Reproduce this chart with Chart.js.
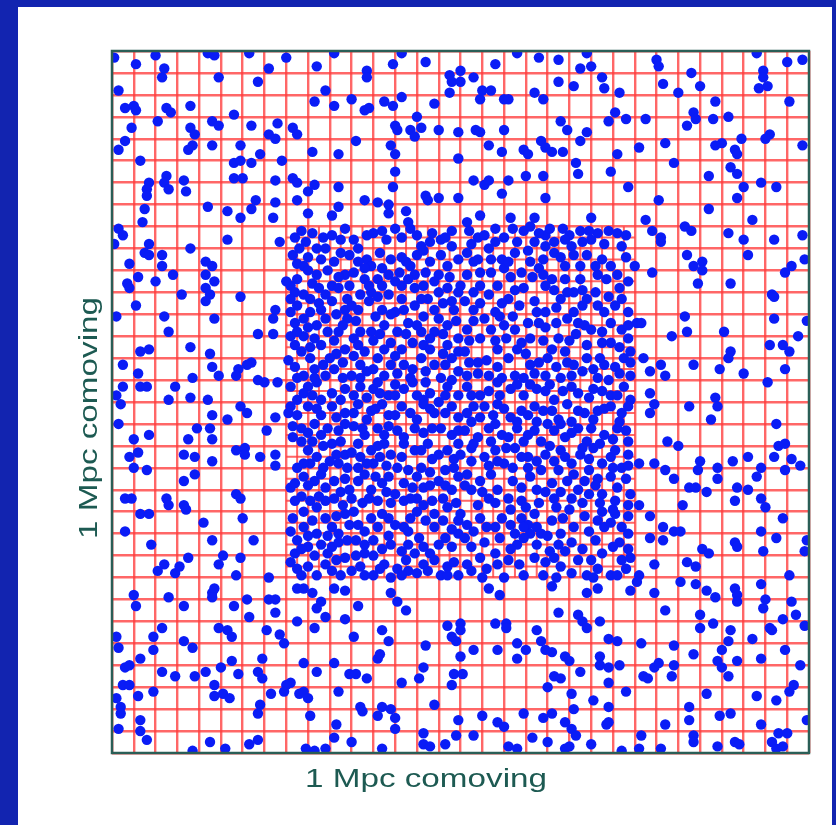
<!DOCTYPE html>
<html>
<head>
<meta charset="utf-8">
<script src="https://cdn.jsdelivr.net/npm/chart.js@4/dist/chart.umd.min.js"></script>
<style>
  html, body { margin: 0; padding: 0; width: 836px; height: 825px; overflow: hidden; background: #1224b0; }
  #panel { position: absolute; left: 18px; top: 7px; width: 814px; height: 818px; background: #ffffff; }
  canvas { display: block; }
</style>
</head>
<body>
<div id="panel"><canvas id="chart" width="814" height="818"></canvas></div>
<script>
// Box is 32 root cells across; positions are in root-cell units, y counted from the top edge.
const rootGrid = [0,1,2,3,4,5,6,7,8,9,10,11,12,13,14,15,16,17,18,19,20,21,22,23,24,25,26,27,28,29,30,31,32];
// Refined patch covers root cells 8..24 on both axes, split in half.
const refinedBounds = [8, 24];
const refinedGrid = [8.5,9.5,10.5,11.5,12.5,13.5,14.5,15.5,16.5,17.5,18.5,19.5,20.5,21.5,22.5,23.5];

const xTitle = '1 Mpc comoving';
const yTitle = '1 Mpc comoving';

// Particles outside the refined patch
const outerNW = [[0.1,0.3],[1.1,0.6],[2.0,0.2],[2.4,0.8],[2.3,1.2],[4.4,0.1],[4.7,0.2],[4.9,1.2],[6.3,0.1],[6.7,1.4],[7.2,0.8],[8.0,0.3],[9.4,0.7],[10.2,0.1],[9.8,1.8],[9.3,2.3],[10.2,2.5],[11.0,2.2],[11.7,0.9],[11.7,1.2],[12.9,0.6],[13.3,0.1],[14.4,0.5],[15.5,1.1],[15.6,1.4],[15.5,1.9],[13.3,2.1],[12.5,2.3],[12.9,2.5],[14.8,2.4],[11.6,2.7],[11.8,2.6],[0.3,1.8],[0.6,2.6],[1.0,2.5],[1.1,2.7],[2.5,2.6],[2.7,2.8],[3.6,2.5],[2.1,3.2],[0.9,3.5],[0.6,4.1],[0.3,4.5],[3.6,3.5],[3.8,3.8],[3.7,4.3],[3.5,4.5],[4.6,3.2],[4.9,3.4],[5.6,2.9],[6.4,3.4],[7.2,3.8],[7.6,3.3],[7.5,4.0],[8.3,3.5],[8.5,3.8],[4.6,4.3],[5.9,4.3],[5.6,5.1],[5.9,5.0],[6.4,5.1],[6.8,4.7],[7.8,5.0],[9.2,4.6],[10.4,4.7],[11.2,4.1],[12.8,4.3],[13.0,3.4],[13.1,3.6],[13.7,3.6],[13.9,3.9],[14.0,3.0],[14.2,3.5],[15.0,3.6],[15.9,3.7],[13.0,4.7],[15.9,4.9],[1.3,5.0],[1.7,6.0],[1.6,6.3],[1.6,6.6],[2.5,5.7],[2.4,6.0],[2.6,6.3],[3.3,5.9],[3.4,6.4],[1.5,7.2],[1.4,7.8],[4.4,7.1],[5.3,7.3],[5.9,7.6],[5.6,5.8],[6.0,5.8],[6.6,6.8],[6.4,7.2],[7.5,5.9],[8.3,5.8],[8.5,6.0],[7.5,6.9],[7.4,7.6],[8.5,6.8],[9.0,6.4],[9.3,6.1],[9.0,7.4],[10.4,6.2],[10.4,7.1],[10.1,7.5],[11.6,6.8],[12.2,6.9],[12.7,7.0],[12.7,7.4],[13.0,5.5],[12.9,6.2],[13.5,7.3],[14.4,6.6],[14.5,6.8],[15.0,6.7],[15.9,6.7],[0.3,8.1],[0.5,8.4],[0.1,8.8],[1.7,8.8],[1.5,9.2],[1.7,9.3],[2.3,9.3],[0.8,9.7],[2.3,9.8],[1.2,10.3],[2.8,10.2],[2.0,10.5],[0.7,10.6],[0.8,10.8],[3.6,9.0],[5.3,8.6],[7.7,8.7],[4.3,9.6],[4.6,9.8],[4.3,10.2],[4.7,10.5],[4.3,10.8],[4.5,11.1],[4.3,11.4],[3.2,11.1],[5.9,11.2],[1.1,11.6],[0.2,12.1],[2.4,12.1],[2.6,12.8],[4.7,12.2],[7.5,11.8],[7.4,12.2],[6.7,12.9],[7.4,12.9],[3.6,13.5],[4.5,13.8],[1.3,13.7],[1.7,13.6],[0.5,14.3],[1.2,14.7],[4.6,14.4],[5.8,14.5],[5.7,14.8],[6.4,14.2],[6.2,14.3],[4.9,14.8],[3.7,14.9],[0.5,15.3],[1.3,15.3],[1.6,15.3],[2.9,15.3],[0.2,15.7],[2.6,15.9],[3.6,15.8],[4.4,15.9],[6.7,15.0],[7.0,15.1],[7.6,15.1]];

const outerNE = [[16.0,0.9],[16.0,1.4],[16.6,1.2],[16.9,2.2],[17.0,1.8],[17.4,1.8],[17.6,0.6],[18.0,2.2],[18.2,2.2],[18.6,0.1],[19.6,0.3],[19.4,1.9],[19.8,2.2],[20.5,0.4],[20.5,1.4],[21.2,1.6],[21.5,0.8],[22.0,0.7],[21.8,0.1],[22.5,1.2],[22.6,1.7],[23.3,1.9],[16.7,3.6],[16.9,3.7],[18.0,3.6],[17.3,4.3],[17.9,4.6],[18.9,4.5],[19.1,4.7],[19.7,4.1],[19.9,4.4],[20.2,4.6],[20.7,4.6],[20.6,3.2],[20.9,3.6],[21.5,4.1],[21.8,3.7],[22.8,3.2],[23.1,2.8],[23.6,3.1],[23.2,4.7],[21.3,5.1],[21.4,5.6],[22.9,5.5],[16.6,5.9],[17.1,6.1],[17.3,5.9],[17.9,6.5],[18.2,5.9],[19.0,5.7],[19.8,5.7],[19.9,6.7],[16.9,7.5],[16.3,7.8],[18.3,7.6],[19.4,7.6],[22.0,7.6],[23.7,6.2],[24.2,4.4],[24.5,3.1],[25.0,0.4],[25.1,0.7],[25.3,1.5],[26.0,1.9],[26.6,1.0],[27.0,1.6],[27.7,2.3],[26.7,2.8],[26.8,3.1],[26.4,3.4],[27.6,3.1],[28.3,3.0],[29.6,0.1],[29.9,0.9],[29.9,1.2],[29.7,1.7],[30.1,1.6],[31.0,0.5],[31.7,0.4],[31.1,2.3],[25.4,4.2],[25.8,5.1],[27.7,4.3],[28.0,4.2],[28.6,4.5],[28.7,4.7],[28.9,4.0],[30.2,3.8],[30.0,4.0],[31.7,4.3],[27.4,5.7],[28.4,5.3],[28.7,5.6],[29.0,6.2],[28.7,6.7],[29.8,6.0],[30.5,6.2],[25.1,6.8],[27.4,7.2],[24.5,7.7],[24.8,8.2],[25.2,8.5],[25.2,8.7],[26.3,8.0],[26.6,8.2],[28.3,8.3],[29.0,8.6],[29.4,7.7],[30.4,8.6],[31.7,8.4],[26.4,9.3],[26.7,9.8],[27.1,9.6],[27.1,10.0],[29.2,9.3],[30.9,10.1],[31.2,9.8],[31.8,9.5],[24.8,10.1],[26.9,10.6],[28.4,10.6],[30.3,11.1],[30.4,11.2],[26.3,12.1],[26.4,12.8],[25.7,13.0],[28.1,12.8],[30.4,12.2],[31.9,12.3],[31.5,13.0],[30.2,13.4],[30.8,13.4],[31.1,13.7],[28.4,13.7],[28.3,14.0],[26.7,14.3],[27.9,14.5],[29.0,14.7],[30.9,14.5],[24.4,14.0],[24.7,14.6],[25.2,14.3],[25.4,14.8],[24.7,15.6],[27.7,15.8],[30.1,15.1]];

const outerSW = [[0.4,16.1],[0.3,17.0],[1.0,17.7],[1.7,17.5],[0.8,18.5],[1.2,18.3],[1.0,19.0],[1.6,19.1],[3.5,17.7],[3.9,17.2],[4.5,17.2],[4.6,16.6],[4.6,17.7],[5.3,16.8],[5.9,16.2],[6.2,16.5],[3.3,18.4],[3.8,18.5],[4.6,18.7],[5.7,18.2],[6.1,18.1],[6.1,18.4],[6.8,18.5],[7.1,17.3],[7.5,16.7],[7.5,18.4],[7.5,18.9],[3.3,19.6],[3.8,19.3],[0.6,20.4],[0.9,20.4],[2.5,20.4],[2.6,20.7],[3.3,20.7],[3.4,20.9],[5.7,20.2],[5.9,20.4],[1.3,21.1],[1.7,21.1],[0.6,21.9],[4.2,21.5],[6.0,21.3],[1.8,22.5],[4.6,22.3],[6.5,22.3],[3.5,23.1],[2.4,23.4],[2.1,23.7],[2.9,23.8],[3.1,23.5],[4.9,23.4],[5.1,23.0],[5.9,23.1],[5.7,23.9],[7.2,24.0],[1.0,24.8],[1.1,25.3],[2.6,24.9],[3.3,25.3],[4.6,24.7],[4.7,24.5],[4.6,24.9],[5.6,25.3],[6.2,25.0],[7.2,25.0],[7.5,25.0],[7.5,25.6],[6.3,25.8],[8.5,24.5],[8.8,24.5],[9.2,24.7],[9.6,25.1],[10.2,24.5],[10.7,24.6],[9.4,25.4],[9.8,25.8],[10.7,25.9],[11.3,25.3],[12.8,24.7],[13.1,25.1],[13.5,25.5],[8.5,26.0],[9.3,26.3],[2.3,26.3],[1.9,26.7],[1.9,27.3],[0.2,26.7],[0.3,27.2],[3.3,26.9],[3.7,27.2],[4.9,26.3],[5.3,26.4],[5.5,26.7],[7.1,26.4],[7.7,26.6],[7.9,27.0],[11.1,26.7],[12.4,26.4],[12.7,26.9],[14.4,27.1],[15.4,26.2],[15.6,26.7],[15.8,26.9],[16.0,27.6],[1.3,27.7],[0.6,28.1],[0.8,28.0],[0.5,28.9],[0.8,28.9],[2.3,28.3],[2.9,28.5],[3.8,28.5],[4.3,28.3],[5.0,28.1],[4.7,28.9],[5.5,27.8],[5.8,28.4],[6.7,28.3],[6.9,27.7],[6.9,28.6],[8.2,28.8],[8.8,27.9],[9.4,28.3],[10.2,27.9],[10.9,28.4],[11.2,28.4],[11.7,28.6],[12.2,27.7],[12.3,27.5],[13.3,28.8],[14.1,28.6],[14.3,28.1],[15.7,28.4],[15.6,28.9],[0.2,29.5],[0.4,29.9],[1.2,29.4],[1.9,29.2],[4.7,29.4],[5.1,29.3],[5.4,29.5],[7.3,29.3],[8.0,28.9],[7.9,29.2],[8.6,29.3],[8.8,29.2],[9.0,29.5],[10.4,29.2],[6.8,29.8],[0.3,30.9],[0.4,30.2],[1.3,30.5],[1.3,31.0],[1.6,31.4],[6.7,30.2],[9.1,30.3],[10.3,30.7],[11.4,29.9],[11.5,30.1],[12.2,30.3],[12.4,29.9],[12.8,30.0],[13.0,30.4],[14.8,29.8],[15.9,30.5],[4.5,31.5],[5.2,31.8],[6.3,31.6],[6.7,31.4],[3.7,31.9],[8.9,31.8],[9.3,31.9],[9.8,31.8],[10.2,31.3],[11.0,31.5],[12.4,31.8],[14.3,31.1],[14.3,31.6],[14.6,31.7],[15.3,31.6],[15.8,31.2],[13.0,30.9]];

const outerSE = [[24.7,16.5],[24.9,16.1],[26.5,16.2],[27.5,16.8],[27.8,16.2],[30.5,17.0],[25.5,17.8],[26.0,18.0],[30.6,18.0],[30.9,17.9],[24.2,18.8],[24.9,18.8],[25.4,19.1],[25.8,19.5],[27.0,18.7],[26.9,19.1],[27.8,19.0],[28.5,18.7],[29.2,18.5],[30.4,18.5],[31.2,18.6],[31.6,18.9],[29.6,19.4],[29.8,19.0],[30.9,19.1],[26.5,19.9],[26.8,19.9],[27.3,20.1],[27.8,19.5],[28.7,19.9],[29.2,20.0],[28.6,20.5],[29.8,20.4],[30.0,20.8],[24.2,20.7],[26.2,20.7],[24.7,21.2],[25.3,21.7],[25.8,21.9],[26.1,21.9],[24.7,22.2],[25.3,22.3],[27.1,22.7],[27.4,22.9],[28.6,22.4],[28.7,22.6],[29.8,21.9],[30.8,21.3],[30.5,22.2],[31.9,22.3],[31.8,22.8],[29.9,22.8],[24.2,23.9],[24.9,23.4],[26.4,23.3],[26.8,23.5],[26.1,24.2],[26.8,24.3],[24.9,24.7],[27.3,24.6],[27.7,24.9],[28.6,24.5],[28.7,24.8],[28.7,25.1],[29.8,24.3],[31.1,23.9],[30.0,25.0],[29.9,25.4],[31.2,25.1],[30.8,25.9],[31.4,25.7],[30.2,26.3],[30.3,26.4],[31.8,26.2],[25.4,25.5],[27.0,25.7],[27.6,26.1],[27.0,26.3],[28.4,26.4],[29.4,26.8],[26.7,27.5],[25.8,27.1],[28.0,27.3],[28.3,26.9],[28.7,27.8],[29.8,27.7],[30.9,27.3],[24.3,27.0],[24.9,28.1],[25.1,27.9],[24.4,28.5],[24.6,28.6],[25.8,28.0],[25.7,28.5],[27.8,27.8],[28.0,28.1],[28.3,28.5],[31.6,28.0],[23.6,29.2],[27.3,29.3],[29.6,29.4],[30.5,29.6],[31.1,29.2],[31.3,28.9],[26.5,29.9],[26.5,30.5],[25.4,30.7],[27.9,30.3],[28.4,30.2],[29.8,30.7],[30.6,31.1],[31.0,31.1],[31.9,30.5],[24.3,31.2],[25.2,31.8],[26.7,31.2],[26.7,31.5],[27.8,31.7],[28.6,31.5],[28.8,31.6],[30.3,31.5],[30.5,31.8],[30.8,31.7],[17.3,24.5],[17.8,24.8],[16.0,26.1],[16.0,26.4],[17.6,26.1],[18.1,26.1],[18.1,26.3],[19.5,26.4],[20.5,25.6],[20.2,24.4],[21.4,25.7],[21.6,26.0],[21.8,26.3],[22.4,26.0],[23.8,24.6],[24.1,24.2],[21.8,24.7],[22.3,24.5],[16.6,27.3],[17.7,27.3],[18.6,27.0],[19.0,27.3],[18.6,27.7],[19.7,26.9],[19.9,27.3],[20.2,27.4],[20.8,27.6],[21.0,27.8],[22.4,27.6],[22.8,26.8],[23.2,26.9],[22.4,28.0],[22.8,28.1],[23.3,28.0],[16.1,28.4],[20.3,28.5],[20.6,28.6],[21.5,28.3],[22.8,28.8],[20.0,29.0],[21.1,29.3],[22.1,29.6],[22.8,29.9],[17.0,30.3],[17.7,30.6],[18.0,30.8],[18.9,30.2],[19.8,30.4],[20.2,30.2],[21.2,30.0],[20.8,30.6],[21.1,30.9],[22.7,30.7],[22.8,30.6],[16.6,31.2],[18.2,31.7],[18.6,31.8],[19.3,31.3],[20.0,31.5],[20.8,31.8],[21.0,31.7],[21.3,31.2],[22.0,31.6],[23.4,31.9],[24.2,31.8]];

// Particles inside the refined patch
const innerNW = [[8.7,8.2],[8.9,8.7],[9.7,8.5],[9.8,9.0],[10.7,8.1],[10.5,8.6],[11.7,8.4],[12.4,8.2],[12.6,8.6],[13.0,8.1],[13.6,7.8],[13.7,8.1],[14.2,8.9],[14.6,8.7],[15.1,8.6],[15.6,8.2],[15.6,8.9],[14.7,8.3],[13.3,8.5],[8.3,9.3],[8.5,9.7],[8.8,9.8],[9.4,9.0],[9.6,9.5],[10.2,9.6],[10.9,9.3],[11.3,9.0],[11.7,9.5],[11.9,9.8],[12.8,9.5],[13.7,9.8],[14.0,9.3],[14.6,9.6],[15.4,9.8],[15.9,9.5],[10.7,10.2],[11.1,10.1],[11.6,10.4],[12.2,10.4],[12.7,10.2],[13.2,10.1],[13.9,10.2],[15.0,10.2],[9.4,10.2],[10.1,10.7],[8.5,10.4],[8.2,10.7],[8.0,10.5],[8.4,11.0],[8.8,11.1],[9.1,11.3],[9.8,11.1],[10.4,10.8],[10.8,11.3],[11.4,11.1],[11.9,11.0],[12.4,10.7],[12.7,11.1],[13.3,10.7],[13.6,10.4],[14.3,10.7],[14.5,11.3],[15.0,11.0],[15.6,11.4],[15.9,11.0],[8.5,11.6],[9.1,11.9],[10.7,11.8],[11.3,11.8],[12.4,11.8],[13.0,11.9],[13.9,11.6],[14.8,11.8],[15.7,11.8],[8.2,11.9],[8.4,12.4],[8.8,12.2],[9.4,12.5],[9.8,12.2],[10.4,12.8],[10.8,12.2],[11.4,12.8],[11.9,12.8],[12.5,12.5],[13.1,12.8],[13.6,12.4],[14.2,12.8],[14.8,12.8],[15.4,12.5],[15.9,13.1],[8.2,13.0],[8.8,13.0],[9.3,13.1],[12.8,13.3],[14.3,13.4],[15.4,13.4],[8.1,14.1],[8.7,13.7],[9.1,14.0],[9.6,13.4],[9.7,14.3],[10.7,13.6],[11.1,13.9],[11.6,13.7],[12.2,14.0],[13.0,13.9],[13.4,14.3],[14.2,14.0],[14.8,14.3],[15.6,14.0],[15.9,13.7],[8.8,14.8],[10.2,14.5],[11.0,14.8],[11.7,14.6],[12.5,14.8],[13.1,14.7],[13.7,14.9],[15.1,14.9],[15.9,14.6],[8.2,15.3],[9.0,15.3],[9.4,15.1],[10.1,15.6],[10.7,15.4],[11.4,15.3],[12.0,15.4],[12.7,15.7],[13.4,15.4],[14.0,15.7],[14.6,15.6],[15.4,15.3],[15.9,15.7],[8.5,15.9],[9.6,15.9],[15.0,16.0],
  [8.4,8.5],[9.2,8.3],[10.1,8.4],[11.1,8.6],[12.0,8.3],[14.0,8.4],[15.3,8.5],[8.6,9.0],[9.0,9.4],[10.5,9.2],[11.3,9.6],[12.3,9.2],[13.3,9.4],[14.3,9.1],[15.1,9.3],[9.0,10.0],[9.9,10.0],[10.4,10.3],[11.6,9.9],[12.4,9.9],[13.5,9.6],[14.4,10.1],[15.5,10.3],[9.2,10.6],[9.5,10.8],[10.9,10.7],[11.8,10.7],[13.0,10.5],[13.9,10.8],[14.8,10.5],[15.4,10.8],[8.2,11.3],[9.5,11.5],[10.1,11.4],[11.0,11.6],[11.8,11.4],[12.2,11.2],[13.3,11.3],[14.2,11.3],[15.2,11.5],[9.6,11.8],[10.3,12.0],[11.2,12.3],[12.1,12.1],[12.8,12.0],[13.4,11.8],[14.3,12.1],[15.0,12.2],[15.8,12.3],[8.5,12.8],[9.0,12.6],[9.9,12.8],[10.6,12.5],[11.1,13.1],[12.0,13.2],[12.3,12.9],[13.5,12.9],[14.0,12.5],[14.6,13.1],[15.2,12.9],[8.4,13.4],[9.1,13.5],[10.2,13.2],[10.3,13.8],[11.3,13.4],[12.5,13.6],[13.3,13.6],[13.8,13.3],[14.6,13.6],[15.2,13.8],[8.4,14.4],[9.3,14.5],[10.0,14.0],[10.6,14.2],[11.4,14.3],[12.0,14.5],[12.8,14.3],[13.8,14.5],[14.4,14.6],[15.3,14.3],[8.5,14.9],[9.3,14.9],[9.8,14.8],[10.6,14.9],[11.4,14.9],[12.2,15.1],[13.0,15.2],[13.8,15.1],[14.4,15.1],[15.6,15.0],[8.8,15.6],[9.2,15.7],[10.5,15.9],[11.1,15.7],[11.7,15.8],[12.3,15.6],[13.0,15.7],[14.3,15.9],[15.3,15.7]];

const innerNE = [[17.6,8.1],[18.9,8.2],[19.2,8.0],[19.9,8.4],[20.7,8.1],[21.5,8.2],[22.3,8.3],[22.8,8.2],[23.2,8.3],[16.8,8.5],[18.0,8.5],[19.4,8.7],[20.3,8.7],[21.1,8.9],[22.0,8.6],[16.3,9.2],[16.8,9.5],[17.3,9.0],[17.9,9.5],[18.5,9.2],[18.8,10.1],[19.2,9.6],[19.8,9.5],[20.3,9.2],[20.8,9.8],[21.2,9.3],[21.5,9.8],[22.5,9.5],[22.9,9.8],[23.2,10.2],[24.0,9.8],[17.4,10.1],[18.0,9.9],[20.2,10.4],[22.3,10.2],[16.0,10.7],[16.6,11.0],[17.3,11.1],[17.7,10.7],[18.2,11.3],[18.9,10.8],[19.4,11.4],[19.9,10.7],[20.6,11.3],[21.2,11.0],[21.8,11.3],[22.3,11.6],[23.4,11.3],[23.7,11.9],[16.6,11.8],[17.6,11.9],[19.9,11.9],[21.2,11.9],[16.3,12.7],[17.1,12.2],[17.4,12.7],[18.0,12.5],[18.5,12.7],[19.2,13.1],[19.6,12.4],[20.9,12.2],[21.4,12.4],[22.0,12.7],[22.5,12.8],[23.4,12.7],[24.1,12.4],[24.3,12.4],[16.9,13.1],[20.5,13.1],[22.5,13.3],[22.9,13.3],[23.7,13.1],[16.2,13.7],[16.8,14.2],[17.7,13.6],[18.2,14.0],[18.6,13.6],[19.2,14.3],[20.0,14.0],[20.8,13.7],[21.2,14.3],[21.8,14.0],[22.1,14.5],[22.6,14.3],[23.1,14.4],[23.5,14.0],[17.3,14.8],[18.5,14.8],[19.9,14.8],[20.6,14.9],[23.8,14.8],[16.3,15.3],[16.9,15.7],[17.7,15.1],[18.3,15.4],[18.9,15.7],[19.5,15.4],[20.3,15.9],[21.1,15.3],[21.4,15.6],[22.1,15.4],[22.9,15.7],[23.5,15.3],[23.8,15.9],
  [16.4,8.2],[17.1,8.4],[18.4,8.1],[19.6,8.3],[20.1,8.1],[21.0,8.4],[21.9,8.2],[23.6,8.4],[16.5,8.8],[17.6,8.7],[18.6,8.7],[19.9,8.9],[20.8,8.6],[21.6,8.7],[22.6,8.8],[23.4,8.9],[16.6,9.6],[17.4,9.5],[18.2,9.6],[19.1,9.1],[19.6,9.9],[20.6,9.4],[21.8,9.3],[22.2,9.8],[23.6,9.4],[16.3,10.2],[16.9,10.1],[18.3,10.3],[19.3,10.3],[19.8,10.2],[20.8,10.4],[21.5,10.4],[22.7,10.4],[23.7,10.5],[16.9,10.7],[18.5,10.9],[20.3,10.9],[20.9,11.0],[21.6,10.9],[22.2,11.0],[22.8,11.2],[23.3,10.8],[16.2,11.4],[16.9,11.5],[17.9,11.5],[18.7,11.6],[19.5,11.9],[20.4,11.7],[21.6,11.6],[22.6,11.9],[23.1,11.6],[16.6,12.3],[17.8,12.1],[18.4,12.1],[19.1,12.4],[19.9,12.6],[20.4,12.4],[21.3,12.9],[21.7,12.5],[22.9,12.4],[23.7,12.5],[16.4,13.2],[17.6,13.2],[18.1,13.1],[18.8,13.3],[19.8,13.2],[20.2,13.6],[21.0,13.2],[21.8,13.4],[23.3,13.5],[23.8,13.7],[16.4,14.2],[17.2,14.1],[17.7,14.4],[19.0,13.8],[19.6,14.2],[20.4,14.4],[20.9,14.2],[21.6,14.6],[22.4,14.0],[23.8,14.2],[16.3,14.8],[16.8,14.7],[17.9,14.9],[18.9,14.9],[19.4,14.7],[20.1,15.2],[21.1,14.8],[22.3,14.9],[22.8,15.0],[23.3,14.7],[16.5,15.7],[17.3,15.5],[17.8,15.7],[18.6,15.2],[19.2,15.2],[19.9,15.5],[20.7,15.5],[21.9,15.8],[22.5,15.5],[23.2,15.7]];

const innerSW = [[8.1,16.5],[8.2,16.2],[9.0,16.2],[9.6,16.6],[10.1,16.2],[10.7,16.5],[11.3,16.1],[11.9,16.4],[12.4,16.1],[12.7,16.6],[13.3,16.2],[13.7,16.5],[14.3,16.1],[14.8,16.5],[15.6,16.2],[15.9,16.7],[8.7,17.2],[9.3,17.0],[9.6,17.5],[10.4,17.3],[11.1,17.1],[11.6,17.5],[12.2,17.2],[12.5,17.5],[13.1,17.3],[13.9,17.2],[14.3,17.4],[15.1,17.2],[15.6,17.5],[8.7,17.8],[9.0,18.2],[9.4,18.5],[10.1,17.9],[10.5,17.8],[10.7,18.4],[11.3,17.9],[11.4,18.5],[11.9,18.2],[12.5,17.9],[12.8,18.4],[13.4,17.9],[13.9,18.2],[14.5,17.9],[15.0,18.4],[15.4,18.2],[15.9,17.9],[8.5,19.0],[9.1,18.8],[10.4,18.8],[10.8,19.0],[12.0,18.8],[13.1,19.0],[14.2,19.0],[15.3,19.1],[8.2,19.9],[8.4,19.7],[8.8,19.4],[9.3,19.6],[9.8,19.9],[10.2,19.6],[10.5,20.1],[11.3,19.6],[11.6,19.3],[11.9,20.0],[12.4,19.7],[12.7,19.4],[13.0,20.2],[13.4,19.7],[14.0,19.4],[14.3,19.9],[15.0,19.6],[15.6,20.0],[15.9,19.4],[9.1,20.5],[9.8,20.5],[11.0,20.4],[12.2,20.5],[13.4,20.5],[14.0,20.4],[14.7,20.5],[8.8,21.0],[9.4,20.8],[9.8,21.3],[10.1,21.7],[10.7,21.1],[11.1,21.0],[11.3,21.6],[11.9,21.3],[12.2,21.7],[12.7,21.3],[13.4,21.7],[14.0,21.0],[14.8,21.1],[15.4,20.8],[15.9,21.4],[8.8,21.7],[9.4,22.0],[10.4,22.0],[13.6,21.9],[14.8,21.7],[8.5,22.3],[8.4,22.9],[9.0,22.6],[9.6,22.5],[10.1,22.6],[10.7,23.1],[10.8,22.3],[11.6,22.5],[12.0,22.3],[12.8,22.5],[13.3,22.8],[13.6,22.5],[13.9,22.9],[14.3,22.6],[15.0,22.5],[15.6,22.6],[15.9,22.0],[8.5,23.6],[9.0,23.5],[9.4,23.9],[9.8,23.4],[10.5,23.9],[11.0,23.7],[11.4,23.5],[12.0,23.9],[12.8,24.0],[13.1,23.6],[13.6,23.7],[14.3,23.4],[14.5,23.7],[15.1,23.9],[15.4,23.5],[15.9,23.9],
  [8.5,16.6],[9.4,16.3],[10.3,16.7],[11.1,16.5],[11.7,16.8],[12.1,16.3],[13.0,16.6],[14.0,16.8],[14.6,16.3],[15.3,16.5],[8.3,17.1],[9.0,17.4],[9.9,17.2],[10.7,17.0],[11.5,17.2],[12.7,17.1],[13.4,17.6],[14.7,17.2],[15.9,17.3],[8.3,17.6],[9.2,17.8],[9.7,18.0],[10.3,18.4],[11.0,18.3],[12.2,18.0],[12.3,18.5],[13.3,18.5],[14.2,18.2],[14.7,18.6],[15.7,18.6],[8.8,18.8],[9.7,19.0],[10.0,18.7],[11.3,19.0],[11.7,18.8],[12.6,18.9],[13.6,19.1],[14.6,19.2],[15.7,19.0],[9.0,19.8],[9.6,19.3],[10.7,19.5],[10.9,20.0],[12.1,19.4],[12.6,20.1],[13.8,19.9],[14.6,19.8],[15.3,19.8],[8.4,20.5],[8.7,20.3],[9.5,20.3],[10.2,20.4],[10.6,20.7],[11.5,20.6],[11.8,20.4],[12.8,20.6],[13.7,20.4],[14.3,20.7],[15.2,20.4],[15.8,20.6],[8.3,21.3],[9.2,21.4],[10.3,21.2],[10.9,21.6],[11.6,21.9],[12.4,21.1],[13.0,21.6],[13.7,21.3],[14.4,21.4],[15.2,21.4],[15.6,21.8],[8.2,21.9],[9.0,22.1],[9.9,22.1],[10.4,22.4],[11.2,22.3],[11.6,22.9],[12.4,22.7],[12.7,22.1],[14.1,22.2],[14.6,22.9],[15.3,22.2],[8.7,22.7],[9.3,23.0],[9.9,22.9],[10.3,23.2],[11.2,23.0],[12.0,23.0],[12.5,23.4],[13.5,23.2],[14.8,23.2],[15.7,23.3],[8.2,23.3],[8.7,23.9],[10.1,23.7],[11.6,23.9],[12.3,23.6],[13.3,23.9],[14.0,23.8],[15.4,23.9]];

const innerSE = [[16.3,16.5],[17.1,16.2],[17.7,16.1],[18.3,16.7],[18.8,16.4],[19.4,16.2],[19.5,16.9],[20.2,16.4],[20.9,16.1],[21.1,16.9],[21.7,16.5],[22.3,16.4],[22.9,16.2],[23.4,16.5],[23.7,16.2],[16.2,17.3],[16.8,17.6],[17.3,17.2],[17.9,17.5],[18.6,17.2],[19.1,17.5],[19.7,17.8],[20.3,17.3],[20.8,17.6],[21.4,17.2],[21.8,17.8],[22.6,17.5],[23.2,17.2],[23.7,17.8],[16.0,18.4],[16.5,18.1],[17.1,18.5],[17.6,18.2],[18.0,18.8],[18.5,18.1],[19.1,18.5],[19.9,18.4],[20.3,18.7],[20.6,18.2],[21.1,18.8],[21.5,18.4],[22.1,18.1],[22.5,18.8],[22.9,18.5],[23.4,19.0],[23.7,18.4],[16.3,19.3],[16.9,19.6],[17.4,19.3],[17.7,20.0],[18.2,20.4],[18.8,19.9],[19.2,19.4],[19.5,20.0],[20.2,19.7],[20.3,20.4],[20.9,19.6],[21.4,20.0],[21.7,19.6],[22.5,20.2],[22.9,19.4],[23.2,19.9],[23.8,20.2],[16.5,20.0],[17.3,20.4],[16.0,21.1],[16.3,21.6],[16.9,21.3],[17.6,21.7],[18.3,21.6],[18.8,21.3],[19.1,21.6],[19.4,21.1],[19.5,21.7],[19.2,22.0],[20.2,21.4],[20.6,22.0],[21.2,21.7],[22.3,21.4],[22.6,21.7],[23.1,21.1],[23.4,21.7],[23.7,22.0],[22.5,21.0],[18.9,21.7],[19.7,22.0],[16.5,22.6],[16.9,23.1],[16.3,23.4],[17.7,23.4],[18.2,23.2],[18.6,22.5],[18.9,22.2],[19.4,23.1],[19.8,23.9],[20.3,23.1],[20.5,22.5],[20.8,22.8],[21.4,23.2],[21.8,23.9],[22.5,22.9],[22.9,23.9],[23.2,23.9],[23.4,23.2],[23.8,23.1],[18.9,23.9],[18.0,24.0],
  [16.6,16.2],[16.9,16.7],[17.5,16.6],[18.0,16.3],[18.6,16.9],[19.1,16.6],[19.8,16.4],[20.5,16.8],[21.4,16.4],[22.1,16.8],[22.6,16.3],[23.3,16.9],[16.5,16.9],[17.6,17.0],[18.2,17.6],[18.9,17.8],[19.4,17.3],[20.0,17.0],[20.6,17.0],[21.1,17.4],[22.0,17.2],[22.4,17.9],[23.0,17.7],[23.6,17.3],[16.6,17.9],[17.4,17.8],[18.1,18.1],[18.8,18.5],[19.5,18.7],[20.1,18.0],[20.8,18.5],[21.6,18.1],[21.9,18.6],[23.1,18.2],[23.7,18.9],[16.5,18.7],[17.3,18.9],[17.7,18.7],[18.4,19.0],[19.1,19.0],[19.7,19.1],[20.5,19.1],[21.2,19.3],[21.9,19.1],[22.3,19.5],[23.0,19.0],[23.6,19.5],[16.2,19.8],[17.0,20.1],[18.4,19.6],[18.8,20.5],[19.9,20.1],[20.6,20.1],[21.1,20.4],[21.9,20.2],[22.2,19.8],[23.1,20.5],[23.7,20.7],[16.8,20.7],[17.6,20.6],[18.3,20.9],[19.0,20.8],[19.6,20.6],[20.4,20.8],[21.0,20.9],[21.6,20.6],[22.4,20.6],[23.0,20.9],[23.7,21.2],[16.6,21.9],[17.2,21.7],[17.9,21.3],[18.5,22.0],[20.0,22.1],[20.7,21.3],[21.7,21.2],[21.9,21.9],[22.9,21.5],[23.3,22.4],[16.2,22.2],[17.1,22.4],[17.8,22.2],[18.3,22.7],[19.5,22.5],[20.1,22.8],[21.1,22.4],[21.6,22.7],[22.2,22.3],[23.0,22.6],[23.7,22.7],[16.5,23.7],[17.2,23.6],[17.6,22.9],[18.7,23.4],[19.9,23.3],[20.6,23.5],[21.1,23.8],[22.0,23.2],[22.3,23.6],[23.6,23.6],[17.0,24.0],[20.4,24.0],[22.1,24.0]];

const particleColor = '#0a1cf6';
const meshColor = 'rgba(255, 60, 60, 0.78)';
const frameColor = '#2a5e56';
const titleColor = '#1d5a52';

const toXY = ([x, y]) => ({ x, y });
const particles = [...outerNW, ...outerNE, ...outerSW, ...outerSE,
                   ...innerNW, ...innerNE, ...innerSW, ...innerSE].map(toXY);

// Refined mesh lines as broken polylines (null points split the segments)
const [lo, hi] = refinedBounds;
const refinedVertical = refinedGrid.flatMap(v => [{ x: v, y: lo }, { x: v, y: hi }, { x: v, y: null }]);
const refinedHorizontal = refinedGrid.flatMap(v => [{ x: lo, y: v }, { x: hi, y: v }, { x: null, y: v }]);

const setRootTicks = scale => { scale.ticks = rootGrid.map(value => ({ value })); };

const frame = {
  id: 'frame',
  afterDraw(chart) {
    const { ctx, chartArea: a } = chart;
    ctx.save();
    ctx.strokeStyle = frameColor;
    ctx.lineWidth = 2.5;
    ctx.strokeRect(a.left, a.top, a.right - a.left, a.bottom - a.top);
    ctx.restore();
  }
};

const axisTitles = {
  id: 'axisTitles',
  afterDraw(chart) {
    const { ctx, chartArea: a } = chart;
    const length = 242;
    ctx.save();
    ctx.fillStyle = titleColor;
    ctx.font = '26px "Liberation Sans", Arial, Helvetica, sans-serif';
    ctx.textAlign = 'center';
    ctx.textBaseline = 'alphabetic';

    let w = ctx.measureText(xTitle).width;
    ctx.save();
    ctx.translate(a.left + 314, a.bottom + 34);
    ctx.scale(length / w, 1);
    ctx.fillText(xTitle, 0, 0);
    ctx.restore();

    w = ctx.measureText(yTitle).width;
    ctx.save();
    ctx.translate(a.left - 15, a.top + 367);
    ctx.rotate(-Math.PI / 2);
    ctx.scale(length / w, 1);
    ctx.fillText(yTitle, 0, 0);
    ctx.restore();
    ctx.restore();
  }
};

const lineStyle = {
  type: 'scatter',
  showLine: true,
  spanGaps: false,
  borderColor: meshColor,
  borderWidth: 2,
  pointRadius: 0,
  pointHoverRadius: 0,
  order: 2
};

new Chart(document.getElementById('chart'), {
  type: 'scatter',
  data: {
    datasets: [
      { ...lineStyle, label: 'refined x', data: refinedVertical },
      { ...lineStyle, label: 'refined y', data: refinedHorizontal },
      {
        label: 'particles',
        data: particles,
        pointRadius: 5.2,
        pointBorderWidth: 0,
        pointBackgroundColor: particleColor,
        pointHoverRadius: 5.2,
        clip: 0,
        order: 1
      }
    ]
  },
  options: {
    responsive: false,
    animation: false,
    devicePixelRatio: 1,
    layout: { padding: { left: 94, top: 44, right: 23, bottom: 72 } },
    plugins: { legend: { display: false }, tooltip: { enabled: false } },
    events: [],
    scales: {
      x: {
        type: 'linear', min: 0, max: 32,
        afterBuildTicks: setRootTicks,
        ticks: { display: false },
        grid: { color: meshColor, lineWidth: 2.4, drawTicks: false },
        border: { display: false }
      },
      y: {
        type: 'linear', min: 0, max: 32, reverse: true,
        afterBuildTicks: setRootTicks,
        ticks: { display: false },
        grid: { color: meshColor, lineWidth: 2.4, drawTicks: false },
        border: { display: false }
      }
    }
  },
  plugins: [frame, axisTitles]
});
</script>
</body>
</html>
